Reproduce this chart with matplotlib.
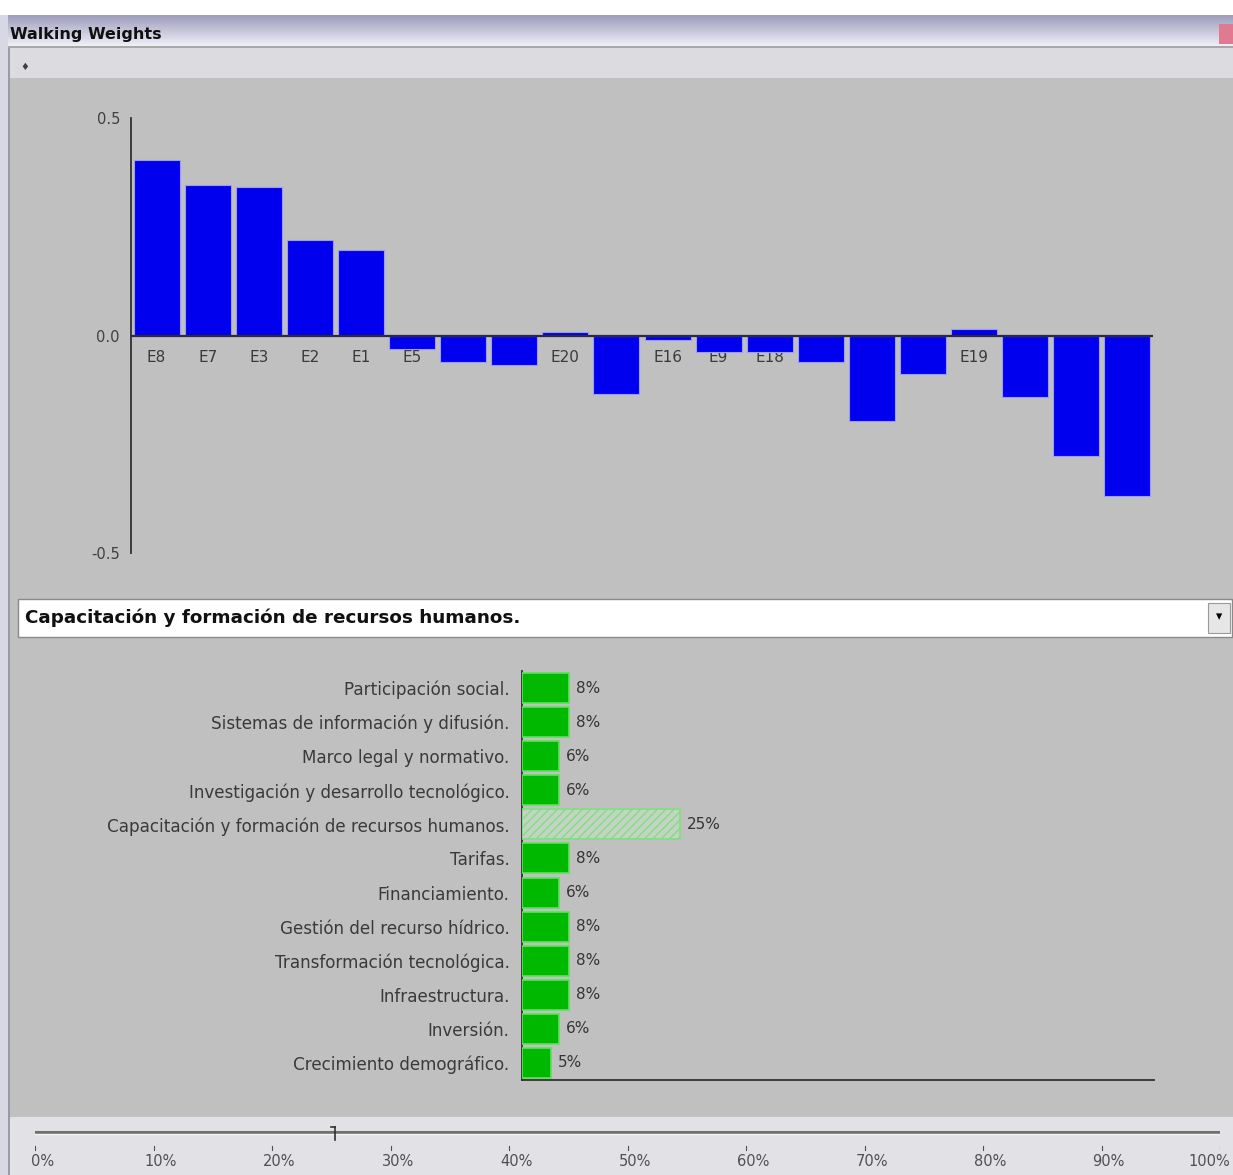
import numpy as np
import matplotlib
matplotlib.use("Agg")
import matplotlib.pyplot as plt
from matplotlib.patches import Rectangle
from matplotlib.colors import LinearSegmentedColormap

# ---------------- data ----------------
alt_labels = ['E8', 'E7', 'E3', 'E2', 'E1', 'E5', 'E6', 'E10', 'E20', 'E12',
              'E16', 'E9', 'E18', 'E4', 'E13', 'E14', 'E19', 'E17', 'E11', 'E15']
alt_values = [0.404, 0.346, 0.342, 0.220, 0.197, -0.032, -0.060, -0.067, 0.009, -0.135,
              -0.011, -0.037, -0.037, -0.060, -0.197, -0.089, 0.014, -0.142, -0.278, -0.369]
y_ticks = [0.5, 0.0, -0.5]
y_tick_labels = ['0.5', '0.0', '-0.5']

criteria = ['Participación social.', 'Sistemas de información y difusión.',
            'Marco legal y normativo.', 'Investigación y desarrollo tecnológico.',
            'Capacitación y formación de recursos humanos.', 'Tarifas.',
            'Financiamiento.', 'Gestión del recurso hídrico.',
            'Transformación tecnológica.', 'Infraestructura.', 'Inversión.',
            'Crecimiento demográfico.']
weights = [7.5, 7.5, 5.9, 5.9, 25.0, 7.5, 5.9, 7.5, 7.5, 7.5, 5.9, 4.6]
selected = 'Capacitación y formación de recursos humanos.'

slider_ticks = [0, 10, 20, 30, 40, 50, 60, 70, 80, 90, 100]
slider_labels = ['0%', '10%', '20%', '30%', '40%', '50%', '60%', '70%', '80%', '90%', '100%']
slider_value = 25
window_title = 'Walking Weights'

plt.rcParams['hatch.color'] = '#70d070'
plt.rcParams['hatch.linewidth'] = 1.0

# ---------------- layout helpers ----------------
W, H = 1233, 1175
fig = plt.figure(figsize=(W / 100, H / 100), dpi=100, facecolor='#c0c0c0')


def px(l, t, w, h):
    return [l / W, 1 - (t + h) / H, w / W, h / H]


def frect(l, t, w, h, z=-5, **kw):
    fig.patches.append(Rectangle((l / W, 1 - (t + h) / H), w / W, h / H,
                                 transform=fig.transFigure, zorder=z, **kw))


# window chrome
frect(0, 0, W, 15, facecolor='white', edgecolor='none')
tb = fig.add_axes(px(8, 15, W - 8, 33))
grad = np.linspace(0, 1, 64).reshape(-1, 1)
cm = LinearSegmentedColormap.from_list('tb', ['#9c9cbc', '#c8c8dc', '#f4f6fb'])
tb.imshow(grad, aspect='auto', cmap=cm, extent=[0, 1, 0, 1])
tb.set_axis_off()
fig.text(10 / W, 1 - 35 / H, window_title, fontsize=11.5, fontweight='bold',
         color='#101010', va='center', ha='left')
frect(1219, 24, 14, 20, z=5, facecolor='#e07a90', edgecolor='none')
frect(0, 46, W, 2, z=5, facecolor='#a8a8a8', edgecolor='none')
frect(0, 48, W, 30, facecolor='#dcdce0', edgecolor='none')
fig.text(25 / W, 1 - 67 / H, '♦', fontsize=7, color='#404040', ha='center', va='center')
# left border
frect(0, 15, 8, H - 15, z=5, facecolor='#d8d8e4', edgecolor='none')
frect(8, 48, 2, H - 48, z=5, facecolor='#9a9aa6', edgecolor='none')

# ---------------- top bar chart ----------------
ax1 = fig.add_axes(px(131, 118, 1022, 435))
ax1.set_facecolor('none')
x = np.arange(len(alt_labels))
ax1.bar(x, alt_values, width=0.9, color='#0000ee', edgecolor='#9c9cf4',
        linewidth=0.8, zorder=3)
ax1.axhline(0, color='#2a2a40', linewidth=1.6, zorder=4)
for i, lab in enumerate(alt_labels):
    ax1.text(i, -0.05, lab, ha='center', va='center', fontsize=11,
             color='#3a3a3a', zorder=2)
ax1.set_xlim(-0.5, len(alt_labels) - 0.5)
ax1.set_ylim(-0.5, 0.5)
ax1.set_yticks(y_ticks)
ax1.set_yticklabels(y_tick_labels)
ax1.tick_params(axis='y', length=0, pad=8, labelsize=10.5, labelcolor='#404040')
ax1.set_xticks([])
for s in ['top', 'right', 'bottom']:
    ax1.spines[s].set_visible(False)
ax1.spines['left'].set_color('#303030')
ax1.spines['left'].set_linewidth(1.3)

# ---------------- dropdown ----------------
frect(18, 599, 1214, 38, facecolor='white', edgecolor='#8a8a8a', linewidth=1)
fig.text(25 / W, 1 - 618 / H, selected, fontsize=13.2, fontweight='bold',
         color='#101010', va='center', ha='left')
frect(1208, 603, 22, 30, facecolor='#e6e6e6', edgecolor='#9a9a9a', linewidth=0.8)
fig.text(1219 / W, 1 - 617 / H, '▾', fontsize=9, color='#000000', ha='center', va='center')

# ---------------- weights chart ----------------
ax2 = fig.add_axes(px(522, 671, 632, 409))
ax2.set_facecolor('none')
yy = np.arange(len(criteria))
for yi, (c, w) in enumerate(zip(criteria, weights)):
    if c == selected:
        ax2.barh(yi, w, height=0.88, color='#c4d4c4', edgecolor='#7ee07e',
                 hatch='////', linewidth=1.2, zorder=3)
    else:
        ax2.barh(yi, w, height=0.88, color='#00b800', edgecolor='#5ee05e',
                 linewidth=1.2, zorder=3)
    ax2.annotate('%.0f%%' % w, xy=(w, yi), xytext=(5, 0), textcoords='offset points',
                 ha='left', va='center', fontsize=11, color='#353535')
ax2.set_xlim(0, 100)
ax2.set_ylim(len(criteria) - 0.5, -0.5)
ax2.set_yticks(yy)
ax2.set_yticklabels(criteria)
ax2.tick_params(axis='y', length=0, pad=9, labelsize=12.1, labelcolor='#3a3a3a')
ax2.set_xticks([])
for s in ['top', 'right']:
    ax2.spines[s].set_visible(False)
for s in ['left', 'bottom']:
    ax2.spines[s].set_color('#303030')
    ax2.spines[s].set_linewidth(1.3)

# ---------------- slider ----------------
frect(10, 1117, W - 10, H - 1117, facecolor='#e2e2e6', edgecolor='none')
ax3 = fig.add_axes(px(35, 1120, 1185, 55))
ax3.set_facecolor('none')
ax3.set_xlim(0, 100)
ax3.set_ylim(0, 55)
ax3.set_axis_off()
ax3.plot([-0.6, 100.2], [43, 43], color='#707070', linewidth=2.2, solid_capstyle='butt')
ax3.plot([-0.6, 100.2], [41.5, 41.5], color='#f4f4f4', linewidth=1)
ax3.plot([slider_value + 0.3] * 2, [35, 48], color='#303030', linewidth=1.2)
ax3.plot([slider_value, slider_value + 0.3], [48, 48], color='#303030', linewidth=1.2)
for t, lab in zip(slider_ticks, slider_labels):
    ax3.plot([t, t], [25, 29], color='#505050', linewidth=0.8)
    if t == 100:
        ax3.text(t + 0.9, 13, lab, ha='right', va='center', fontsize=10.5, color='#505050')
    else:
        ax3.text(t + 0.6, 13, lab, ha='center', va='center', fontsize=10.5, color='#505050')

fig.savefig('out.png', dpi=100, facecolor=fig.get_facecolor())
